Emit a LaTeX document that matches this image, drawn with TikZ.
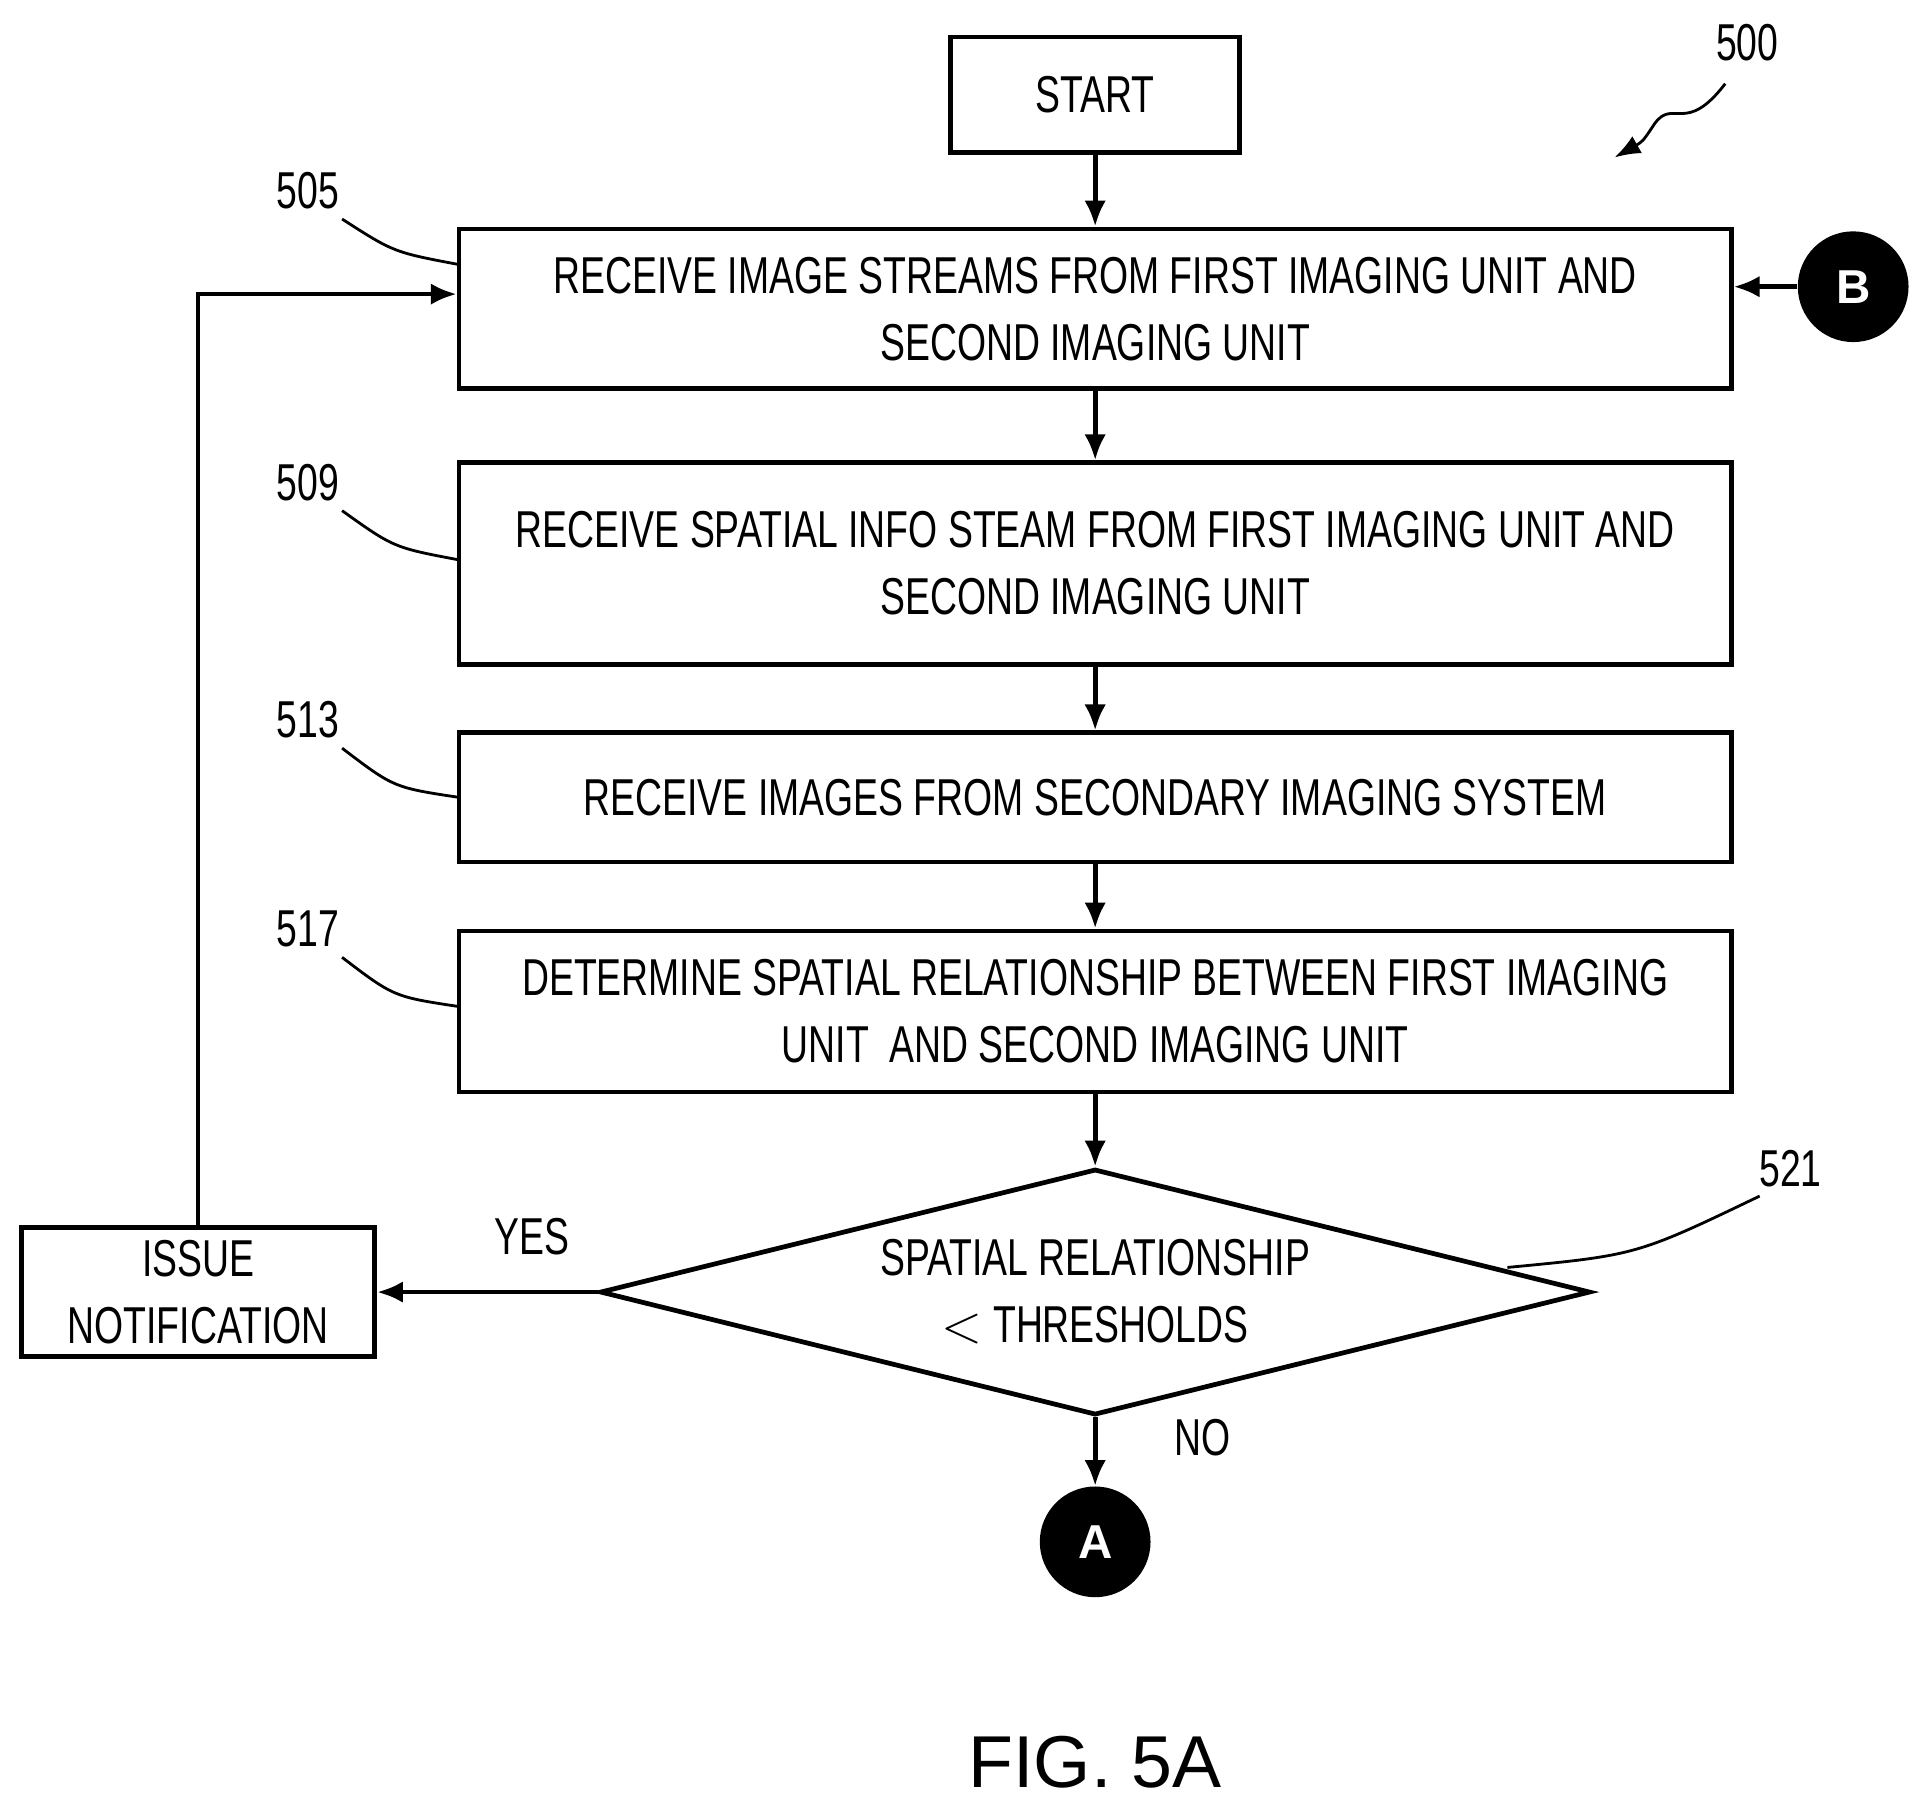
\documentclass[tikz,border=0pt]{standalone}
\usepackage{fontspec}
\setmainfont{Liberation Sans}
\newfontfamily\narrowfont[FakeStretch=0.72]{Liberation Sans}
\usetikzlibrary{shapes.geometric,arrows.meta}
\tikzset{
  procbox/.style={draw,line width=2.2pt,inner sep=0pt,align=center,font=\narrowfont\fontsize{24}{31}\selectfont},
  flow/.style={line width=2.2pt,-{Latex[length=12pt,width=10pt]}},
  lead/.style={line width=1.3pt},
  refnum/.style={font=\narrowfont\fontsize{24}{28}\selectfont},
  conn/.style={circle,fill=black,text=white,minimum size=1.8cm,inner sep=0pt,font=\bfseries\fontsize{22}{24}\selectfont}
}
\begin{document}
\begin{tikzpicture}[x=0.02cm,y=-0.02cm]
\useasboundingbox (0,0) rectangle (1566,1470);
\node[procbox,minimum width=4.7cm,minimum height=1.88cm] (start) at (890,77) {START};
\node[procbox,minimum width=20.68cm,minimum height=2.6cm] (s505) at (890,251) {RECEIVE IMAGE STREAMS FROM FIRST IMAGING UNIT AND\\SECOND IMAGING UNIT};
\node[procbox,minimum width=20.68cm,minimum height=3.28cm] (s509) at (890,458) {RECEIVE SPATIAL INFO STEAM FROM FIRST IMAGING UNIT AND\\SECOND IMAGING UNIT};
\node[procbox,minimum width=20.68cm,minimum height=2.1cm] (s513) at (890,648) {RECEIVE IMAGES FROM SECONDARY IMAGING SYSTEM};
\node[procbox,minimum width=20.68cm,minimum height=2.62cm] (s517) at (890,822) {DETERMINE SPATIAL RELATIONSHIP BETWEEN FIRST IMAGING\\UNIT\ \ AND SECOND IMAGING UNIT};
\node[procbox,diamond,aspect=4.025,minimum width=16.1cm,minimum height=4cm] (s521) at (890,1050) {SPATIAL RELATIONSHIP\\$<$ THRESHOLDS};
\node[procbox,minimum width=5.74cm,minimum height=2.1cm] (issue) at (161,1050) {ISSUE\\NOTIFICATION};
\node[conn] (conA) at (890,1253) {A};
\node[conn] (conB) at (1506,233) {B};
\coordinate (loop) at (161,239);
% main flow
\draw[flow] (start) -- (s505);
\draw[flow] (s505) -- (s509);
\draw[flow] (s509) -- (s513);
\draw[flow] (s513) -- (s517);
\draw[flow] (s517) -- (s521);
\draw[flow] (s521) -- (conA);
\draw[flow] (s521.west) -- (issue);
\draw[flow] (issue.north) -- (loop) -- (s505.west |- loop);
\draw[flow] (conB) -- (s505.east |- conB);
\node[refnum] (yes) at (432,1005) {YES};
\node[refnum] (no) at (977,1168) {NO};
% reference numerals
\node[refnum] (r505) at (250,155) {505};
\node[refnum] (r509) at (250,392) {509};
\node[refnum] (r513) at (250,585) {513};
\node[refnum] (r517) at (250,755) {517};
\node[refnum] (r521) at (1455,950) {521};
\node[refnum] (r500) at (1420,35) {500};
\draw[lead] (278,178) .. controls (320,205) .. (373,215);
\draw[lead] (278,415) .. controls (320,445) .. (373,455);
\draw[lead] (278,608) .. controls (320,640) .. (373,648);
\draw[lead] (278,778) .. controls (320,810) .. (373,818);
\draw[lead] (1430,972) .. controls (1330,1020) .. (1225,1030);
\draw[lead,-{Latex[length=12pt,width=9pt]}] (1402,68) .. controls (1370,110) and (1360,80) .. (1345,100) .. controls (1335,115) .. (1312,128);
\node[font=\fontsize{34}{38}\selectfont] (fig) at (890,1432) {FIG. 5A};
\end{tikzpicture}
\end{document}
